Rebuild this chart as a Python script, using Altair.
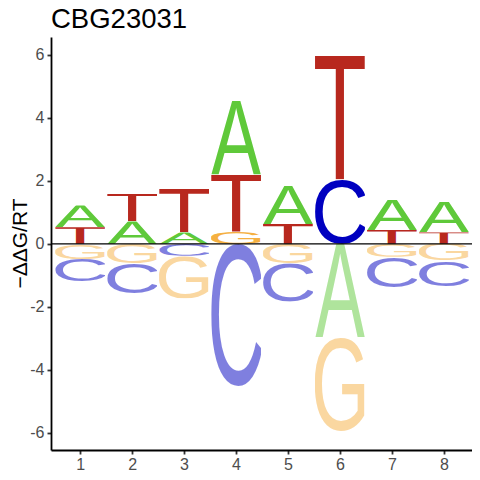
import altair as alt
import pandas as pd
from urllib.parse import quote

# ---- data ----
chart_title = "CBG23031"
positions = [1, 2, 3, 4, 5, 6, 7, 8]
energy_A = [0.69, 0.71, 0.36, 2.35, 1.22, -2.96, 0.96, 0.98]
energy_C = [-0.72, -0.97, -0.38, -4.52, -1.22, 2.05, -0.97, -0.81]
energy_G = [-0.48, -0.61, -1.35, 0.39, -0.62, -2.99, -0.41, -0.53]
energy_T = [0.53, 0.88, 1.39, 1.81, 0.63, 3.92, 0.44, 0.36]
y_ticks = [-6, -4, -2, 0, 2, 4, 6]

# ---- styles ----
colors = {"A": "#5fc93a", "C": "#0000c0", "G": "#f5b041", "T": "#b8281e"}
# glyph boxes (font units, size 1000) for stretching letters into their cells
viewboxes = {
    "A": "-2 -688 670 688",
    "C": "49 -700 620 712",
    "G": "53 -700 660 712",
    "T": "22 -688 567 688",
}


def letter_url(ch, negative):
    op = 0.5 if negative else 1.0
    svg = (
        '<svg xmlns="http://www.w3.org/2000/svg" width="200" height="200" '
        f'viewBox="{viewboxes[ch]}" preserveAspectRatio="none">'
        f'<text x="0" y="0" font-family="Liberation Sans, Arial, sans-serif" '
        f'font-size="1000" fill="{colors[ch]}" fill-opacity="{op}">{ch}</text></svg>'
    )
    return "data:image/svg+xml;charset=utf-8," + quote(svg)


energies = {"A": energy_A, "C": energy_C, "G": energy_G, "T": energy_T}
rows = []
for i, p in enumerate(positions):
    vals = [(b, energies[b][i]) for b in "ACGT"]
    pos = sorted([v for v in vals if v[1] > 0], key=lambda t: t[1])
    neg = sorted([v for v in vals if v[1] < 0], key=lambda t: -t[1])
    base = 0.0
    for b, v in pos:
        rows.append(dict(position=p, base=b, energy=v, y0=base, y1=base + v,
                         url=letter_url(b, False)))
        base += v
    base = 0.0
    for b, v in neg:
        rows.append(dict(position=p, base=b, energy=v, y0=base, y1=base + v,
                         url=letter_url(b, True)))
        base += v
df = pd.DataFrame(rows)

FONT = "Liberation Sans"

letters = alt.Chart(df).transform_calculate(
    x0="datum.position - 0.48", x1="datum.position + 0.48"
).mark_image(aspect=False).encode(
    x=alt.X("x0:Q",
            scale=alt.Scale(domain=[0.44, 8.54], nice=False, zero=False),
            axis=alt.Axis(values=positions, format="d", title=None, labelPadding=2)),
    x2="x1:Q",
    y=alt.Y("y0:Q",
            scale=alt.Scale(domain=[-6.55, 6.57], nice=False, zero=False),
            axis=alt.Axis(values=y_ticks, title="−ΔΔG/RT",
                          labelExpr="toString(datum.value)",
                          labelPadding=3,
                          titleX=-25, titleY=206, titleBaseline="alphabetic")),
    y2="y1:Q",
    url="url:N",
)

zero = alt.Chart(pd.DataFrame({"y": [0]})).mark_rule(
    color="black", strokeWidth=1.3
).encode(y="y:Q")

chart = alt.layer(letters, zero).properties(
    width=421,
    height=413,
    title=alt.TitleParams(text=chart_title, anchor="start", fontSize=27.5, font=FONT,
                          fontWeight="normal", color="black", offset=10, dy=28.5,
                          baseline="alphabetic", frame="group"),
    autosize=alt.AutoSizeParams(type="none"),
    padding={"left": 43, "top": 29, "right": 0, "bottom": 22},
).configure_view(stroke=None).configure_axis(
    labelFont=FONT, labelFontSize=16, labelColor="#4d4d4d",
    titleFont=FONT, titleFontSize=21, titleColor="black", titleFontWeight="normal",
    domainColor="black", domainWidth=1.8, tickColor="#333333", tickWidth=1.8,
    tickSize=4, grid=False,
)

chart.save("out.html", embed_options={"renderer": "svg", "actions": False})
